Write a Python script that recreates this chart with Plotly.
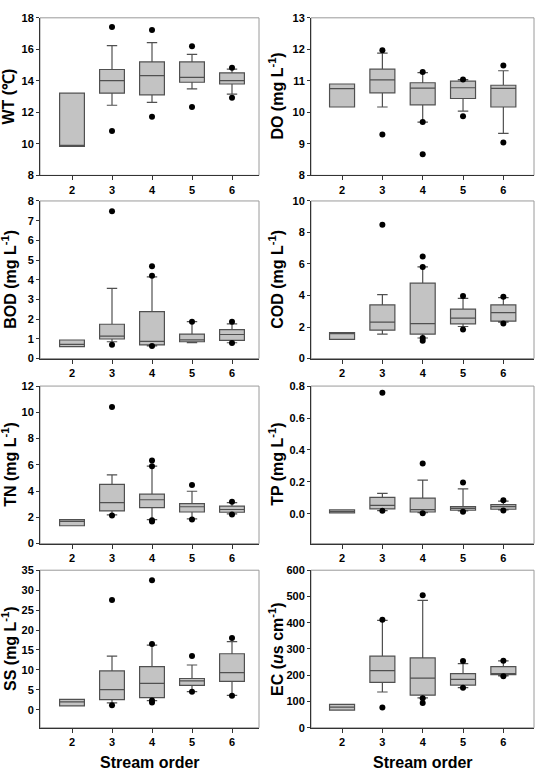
import plotly.graph_objects as go

ORDERS = [2, 3, 4, 5, 6]

# ---- WT (°C)
WT_Q1 = [9.84, 13.22, 13.11, 13.91, 13.80]
WT_MED = [9.84, 14.01, 14.33, 14.22, 14.01]
WT_Q3 = [13.22, 14.72, 15.20, 15.20, 14.51]
WT_LO = [9.84, 12.45, 12.63, 13.49, 13.16]
WT_HI = [13.22, 16.23, 16.43, 15.68, 14.74]
WT_OUT_X = [3, 3, 4, 4, 5, 5, 6, 6]
WT_OUT_Y = [17.42, 10.82, 17.23, 11.72, 16.20, 12.34, 14.83, 12.93]

# ---- DO (mg/L)
DO_Q1 = [10.17, 10.62, 10.24, 10.44, 10.17]
DO_MED = [10.75, 11.03, 10.77, 10.78, 10.76]
DO_Q3 = [10.90, 11.37, 10.94, 10.99, 10.86]
DO_LO = [10.17, 10.17, 9.69, 10.04, 9.33]
DO_HI = [10.90, 11.88, 11.26, 11.04, 11.32]
DO_OUT_X = [3, 3, 4, 4, 4, 5, 5, 6, 6]
DO_OUT_Y = [11.97, 9.30, 11.28, 9.69, 8.67, 11.04, 9.88, 11.49, 9.04]

# ---- BOD (mg/L)
BOD_Q1 = [0.60, 0.99, 0.69, 0.85, 0.92]
BOD_MED = [0.72, 1.14, 0.87, 0.95, 1.22]
BOD_Q3 = [0.94, 1.74, 2.38, 1.24, 1.47]
BOD_LO = [0.60, 0.85, 0.64, 0.80, 0.80]
BOD_HI = [0.94, 3.56, 4.15, 1.87, 1.76]
BOD_OUT_X = [3, 3, 4, 4, 4, 5, 6, 6]
BOD_OUT_Y = [7.48, 0.70, 4.69, 4.20, 0.64, 1.87, 1.87, 0.79]

# ---- COD (mg/L)
COD_Q1 = [1.22, 1.80, 1.55, 2.20, 2.37]
COD_MED = [1.64, 2.31, 2.22, 2.56, 2.91]
COD_Q3 = [1.64, 3.40, 4.78, 3.14, 3.40]
COD_LO = [1.22, 1.55, 1.30, 2.03, 2.30]
COD_HI = [1.64, 4.05, 5.81, 3.82, 3.86]
COD_OUT_X = [3, 4, 4, 4, 4, 5, 5, 6, 6]
COD_OUT_Y = [8.49, 6.48, 5.81, 1.30, 1.13, 3.96, 1.84, 3.92, 2.22]

# ---- TN (mg/L)
TN_Q1 = [1.36, 2.49, 2.74, 2.41, 2.39]
TN_MED = [1.70, 3.12, 3.34, 2.81, 2.60]
TN_Q3 = [1.83, 4.52, 3.77, 3.04, 2.86]
TN_LO = [1.36, 2.19, 1.83, 1.88, 2.26]
TN_HI = [1.83, 5.23, 5.90, 3.99, 3.12]
TN_OUT_X = [3, 3, 4, 4, 4, 4, 5, 5, 6, 6]
TN_OUT_Y = [10.40, 2.14, 6.33, 5.90, 1.78, 1.68, 4.47, 1.83, 3.19, 2.21]

# ---- TP (mg/L)
TP_Q1 = [0.006, 0.031, 0.012, 0.023, 0.029]
TP_MED = [0.015, 0.054, 0.027, 0.035, 0.045]
TP_Q3 = [0.025, 0.103, 0.099, 0.045, 0.058]
TP_LO = [0.006, 0.021, 0.008, 0.019, 0.025]
TP_HI = [0.025, 0.128, 0.212, 0.157, 0.080]
TP_OUT_X = [3, 3, 4, 4, 5, 5, 6, 6]
TP_OUT_Y = [0.759, 0.019, 0.315, 0.004, 0.196, 0.014, 0.085, 0.021]

# ---- SS (mg/L)
SS_Q1 = [0.99, 2.56, 3.06, 6.12, 7.11]
SS_MED = [1.98, 5.04, 6.61, 7.27, 9.34]
SS_Q3 = [2.64, 9.75, 10.83, 7.85, 14.05]
SS_LO = [0.99, 1.74, 2.31, 4.55, 3.64]
SS_HI = [2.64, 13.47, 16.20, 11.24, 17.10]
SS_OUT_X = [3, 3, 4, 4, 4, 4, 5, 5, 6, 6]
SS_OUT_Y = [27.52, 1.16, 32.48, 16.53, 2.31, 1.82, 13.47, 4.55, 18.02, 3.55]

# ---- EC (us/cm)
EC_Q1 = [67.5, 172.5, 124, 162.5, 202.5]
EC_MED = [78.75, 217.5, 189, 184, 205]
EC_Q3 = [88.75, 272.5, 266, 206, 232.5]
EC_LO = [67.5, 136.25, 114, 152.5, 197.5]
EC_HI = [88.75, 408.75, 485, 244, 255]
EC_OUT_X = [3, 3, 4, 4, 4, 5, 5, 6, 6]
EC_OUT_Y = [411.25, 77.5, 505, 112.5, 94, 254, 152.5, 255, 196]

TITLES = ["WT (℃)", "DO (mg L<sup>-1</sup>)", "BOD (mg L<sup>-1</sup>)", "COD (mg L<sup>-1</sup>)",
          "TN (mg L<sup>-1</sup>)", "TP (mg L<sup>-1</sup>)", "SS (mg L<sup>-1</sup>)",
          "EC (<i>u</i>s cm<sup>-1</sup>)"]
Y_RANGES = [[8, 18], [8, 13], [0, 8], [0, 10], [0, 12], [-0.186, 0.8], [-4.5, 35], [0, 600]]
Y_DTICK = [2, 1, 1, 2, 2, 0.2, 5, 100]
Y_FMT = ["", "", "", "", "", ".1f", "", ""]

PANELS = [
    (WT_Q1, WT_MED, WT_Q3, WT_LO, WT_HI, WT_OUT_X, WT_OUT_Y),
    (DO_Q1, DO_MED, DO_Q3, DO_LO, DO_HI, DO_OUT_X, DO_OUT_Y),
    (BOD_Q1, BOD_MED, BOD_Q3, BOD_LO, BOD_HI, BOD_OUT_X, BOD_OUT_Y),
    (COD_Q1, COD_MED, COD_Q3, COD_LO, COD_HI, COD_OUT_X, COD_OUT_Y),
    (TN_Q1, TN_MED, TN_Q3, TN_LO, TN_HI, TN_OUT_X, TN_OUT_Y),
    (TP_Q1, TP_MED, TP_Q3, TP_LO, TP_HI, TP_OUT_X, TP_OUT_Y),
    (SS_Q1, SS_MED, SS_Q3, SS_LO, SS_HI, SS_OUT_X, SS_OUT_Y),
    (EC_Q1, EC_MED, EC_Q3, EC_LO, EC_HI, EC_OUT_X, EC_OUT_Y),
]

W, H = 538, 782
COLS = [(40, 259), (311, 534)]
ROWS = [(12, 172), (198, 358), (386, 546), (573, 733)]
X_RANGES = [[1.2, 6.675], [1.23, 6.76]]
TITLE_X = [9, 276]

FONT = "Liberation Sans, Arial, sans-serif"
AXCOL = "#333333"
FRAME = "#9a9a9a"

fig = go.Figure()
layout = dict(width=W, height=H, margin=dict(l=0, r=0, t=0, b=0),
              paper_bgcolor="white", plot_bgcolor="white", showlegend=False,
              font=dict(family=FONT, color="black"))
annotations = []
shapes = []

for i, (q1, med, q3, lo, hi, ox, oy) in enumerate(PANELS):
    r, c = divmod(i, 2)
    n = i + 1
    xa = "x" if n == 1 else f"x{n}"
    ya = "y" if n == 1 else f"y{n}"
    fig.add_trace(go.Box(x=ORDERS, q1=q1, median=med, q3=q3, lowerfence=lo, upperfence=hi,
                         fillcolor="#c3c3c3", line=dict(color="#505050", width=1.2),
                         width=0.62, whiskerwidth=0.42, boxpoints=False, hoverinfo="skip",
                         xaxis=xa, yaxis=ya))
    fig.add_trace(go.Scatter(x=ox, y=oy, mode="markers",
                             marker=dict(color="black", size=6), xaxis=xa, yaxis=ya,
                             hoverinfo="skip"))
    x0, x1 = COLS[c]
    top, bot = ROWS[r]
    xkey = "xaxis" if n == 1 else f"xaxis{n}"
    ykey = "yaxis" if n == 1 else f"yaxis{n}"
    layout[xkey] = dict(domain=[x0 / W, x1 / W], anchor=ya, range=X_RANGES[c],
                        tickmode="array", tickvals=ORDERS, ticktext=[str(o) for o in ORDERS],
                        ticks="outside", ticklen=4, tickcolor=AXCOL, showline=True,
                        linecolor=AXCOL, linewidth=1, showgrid=False, zeroline=False,
                        tickfont=dict(family=FONT, size=11, weight="bold", color="black"))
    layout[ykey] = dict(domain=[1 - bot / H, 1 - top / H], anchor=xa, range=Y_RANGES[i],
                        dtick=Y_DTICK[i], tick0=0, tickformat=Y_FMT[i],
                        ticks="outside", ticklen=3, tickcolor=AXCOL, showline=True,
                        linecolor=AXCOL, linewidth=1, showgrid=False, zeroline=False,
                        tickfont=dict(family=FONT, size=11, weight="bold", color="black"))
    shapes.append(dict(type="rect", xref=f"{xa} domain", yref=f"{ya} domain",
                       x0=0, x1=1, y0=0, y1=1, line=dict(color=FRAME, width=1),
                       layer="below"))
    annotations.append(dict(text=TITLES[i], textangle=-90, xref="paper", yref="paper",
                            x=TITLE_X[c] / W, y=1 - (top + bot) / 2 / H,
                            xanchor="center", yanchor="middle", showarrow=False,
                            font=dict(family=FONT, size=16, weight="bold", color="black")))

for c in range(2):
    x0, x1 = COLS[c]
    annotations.append(dict(text="Stream order", xref="paper", yref="paper",
                            x=(x0 + x1) / 2 / W, y=1 - 768 / H, xanchor="center",
                            yanchor="middle", showarrow=False,
                            font=dict(family=FONT, size=16, weight="bold", color="black")))

layout["annotations"] = annotations
layout["shapes"] = shapes
fig.update_layout(**layout)
fig.write_html("out.html")
